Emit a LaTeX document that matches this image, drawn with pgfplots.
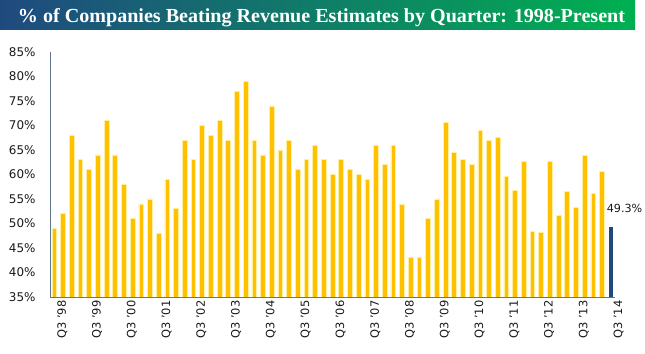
\documentclass[border=0pt]{standalone}
\usepackage{pgfplots}
\pgfplotsset{compat=1.18}
\usepackage{fontspec}
\setmainfont{DejaVu Sans}
\newfontfamily\titlefont{Liberation Serif}
\definecolor{gold}{HTML}{FFC000}
\definecolor{goldedge}{HTML}{FFF0A0}
\definecolor{navy}{HTML}{1F497D}
\definecolor{axisc}{HTML}{5F7890}
\definecolor{bannerL}{HTML}{1F4A7F}
\definecolor{bannerR}{HTML}{00B050}
\begin{document}
\begin{tikzpicture}
\begin{axis}[
  scale only axis,
  width=565bp, height=245bp,
  at={(0,0)}, anchor=south west,
  xmin=0.5, xmax=65.5,
  ymin=35, ymax=85,
  axis x line=bottom, axis y line=left,
  axis line style={-, axisc, line width=0.8pt},
  major tick length=0pt,
  ytick={35,40,...,85},
  yticklabels={35\%,40\%,45\%,50\%,55\%,60\%,65\%,70\%,75\%,80\%,85\%},
  yticklabel style={font=\fontsize{12}{12}\selectfont, text=black!90, xshift=-11bp},
  xtick={1,5,...,65},
  xticklabels={Q3 '98,Q3 '99,Q3 '00,Q3 '01,Q3 '02,Q3 '03,Q3 '04,Q3 '05,Q3 '06,Q3 '07,Q3 '08,Q3 '09,Q3 '10,Q3 '11,Q3 '12,Q3 '13,Q3 '14},
  xticklabel style={font=\fontsize{11.5}{11.5}\selectfont, text=black!90, rotate=90, anchor=east, yshift=-8bp},
  clip=true,
]
\addplot[ybar, bar width=4.8bp, bar shift=0pt, fill=gold, draw=goldedge, line width=0.7bp] coordinates {
(1,49) (2,52) (3,68) (4,63) (5,61) (6,64) (7,71) (8,64) (9,58) (10,51)
(11,54) (12,55) (13,48) (14,59) (15,53) (16,67) (17,63) (18,70) (19,68) (20,71)
(21,67) (22,77) (23,79) (24,67) (25,64) (26,74) (27,65) (28,67) (29,61) (30,63)
(31,66) (32,63) (33,60) (34,63) (35,61) (36,60) (37,59) (38,66) (39,62) (40,66)
(41,54) (42,43) (43,43) (44,51) (45,55) (46,70.6) (47,64.5) (48,63.1) (49,62.1) (50,69)
(51,67) (52,67.6) (53,59.6) (54,56.8) (55,62.7) (56,48.4) (57,48.2) (58,62.7) (59,51.7) (60,56.6)
(61,53.3) (62,63.9) (63,56.2) (64,60.6)
};
\addplot[ybar, bar width=4.3bp, bar shift=0pt, fill=navy, draw=none] coordinates {(65,49.3)};
\coordinate (lab) at (axis cs:65,49.3);
\end{axis}
\node[anchor=base west, font=\fontsize{11.2}{11.2}\selectfont, text=black!90, inner sep=0pt, xshift=-4bp, yshift=14bp] at (lab) {49.3\%};
\shade[left color=bannerL, right color=bannerR] (-50bp,267bp) rectangle (585bp,297bp);
\node[anchor=base, text=white, inner sep=0pt] at (271.5bp,274.3bp) {\resizebox{607bp}{\height}{\titlefont\bfseries\fontsize{20}{20}\selectfont \% of Companies Beating Revenue Estimates by Quarter: 1998-Present}};
\path[use as bounding box] (-50bp,-57bp) rectangle (595bp,297bp);
\end{tikzpicture}
\end{document}
